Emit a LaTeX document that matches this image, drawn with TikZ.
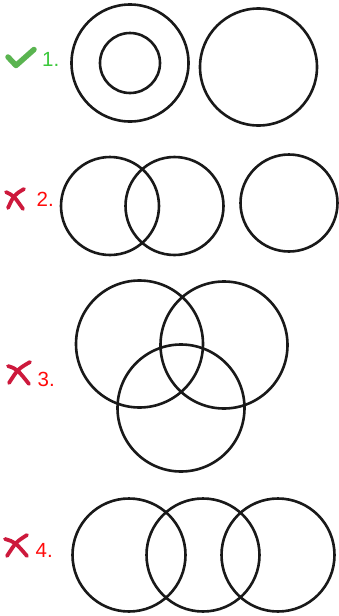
\documentclass[tikz,border=0pt]{standalone}
\usepackage{fontspec}
\setmainfont{Liberation Sans}
\definecolor{okgreen}{RGB}{60,200,60}
\definecolor{chkgreen}{RGB}{90,180,80}
\definecolor{badred}{RGB}{255,10,10}
\definecolor{xred}{RGB}{205,25,60}
\begin{document}
\begin{tikzpicture}[x=1pt,y=-1pt,
  ring/.style={draw=black!90,line width=2.6pt,circle,inner sep=0pt,minimum size=#1},
  lbl/.style={anchor=base west,inner sep=0pt,font=\fontsize{20.5}{20.5}\selectfont},
  xstroke/.style={xred,line width=3.8pt,line cap=round}]
\useasboundingbox (0,0) rectangle (338,616);
% row 1
\node[ring=117pt] (r1a) at (130,63) {};
\node[ring=60pt] (r1b) at (130,63) {};
\node[ring=117pt] (r1c) at (258.5,67) {};
\node[lbl,text=okgreen] (l1) at (42,66.5) {1.};
\coordinate (c1) at (8,57);
\coordinate (c2) at (16,65.5);
\coordinate (c3) at (34,49.5);
\draw[chkgreen,line width=5.5pt,line cap=round,line join=round] (c1) -- (c2) -- (c3);
% row 2
\node[ring=98pt] (r2a) at (110,206) {};
\node[ring=98pt] (r2b) at (174.5,206) {};
\node[ring=97pt] (r2c) at (289,203) {};
\node[lbl,text=badred] (l2) at (36.5,206.5) {2.};
\coordinate (x2a) at (6,192);
\coordinate (x2b) at (23,209);
\coordinate (x2c) at (24,189);
\coordinate (x2d) at (8,208);
\draw[xstroke] (x2a) .. controls (14,196) .. (x2b);
\draw[xstroke] (x2c) .. controls (14,195) .. (x2d);
% row 3
\node[ring=127pt] (r3a) at (139.5,344) {};
\node[ring=127pt] (r3b) at (224,345) {};
\node[ring=127pt] (r3c) at (181,408) {};
\node[lbl,text=badred] (l3) at (37.5,386.5) {3.};
\coordinate (x3a) at (8,366);
\coordinate (x3b) at (29,384);
\coordinate (x3c) at (30,362);
\coordinate (x3d) at (9,383);
\draw[xstroke] (x3a) .. controls (17,369) .. (x3b);
\draw[xstroke] (x3c) .. controls (18,369) .. (x3d);
% row 4
\node[ring=113pt] (r4a) at (129,555) {};
\node[ring=113pt] (r4b) at (203,555) {};
\node[ring=113pt] (r4c) at (278,555) {};
\node[lbl,text=badred] (l4) at (35.5,557.5) {4.};
\coordinate (x4a) at (5,539);
\coordinate (x4b) at (27,556);
\coordinate (x4c) at (27,535);
\coordinate (x4d) at (7,556);
\draw[xstroke] (x4a) .. controls (15,542) .. (x4b);
\draw[xstroke] (x4c) .. controls (16,542) .. (x4d);
\end{tikzpicture}
\end{document}
